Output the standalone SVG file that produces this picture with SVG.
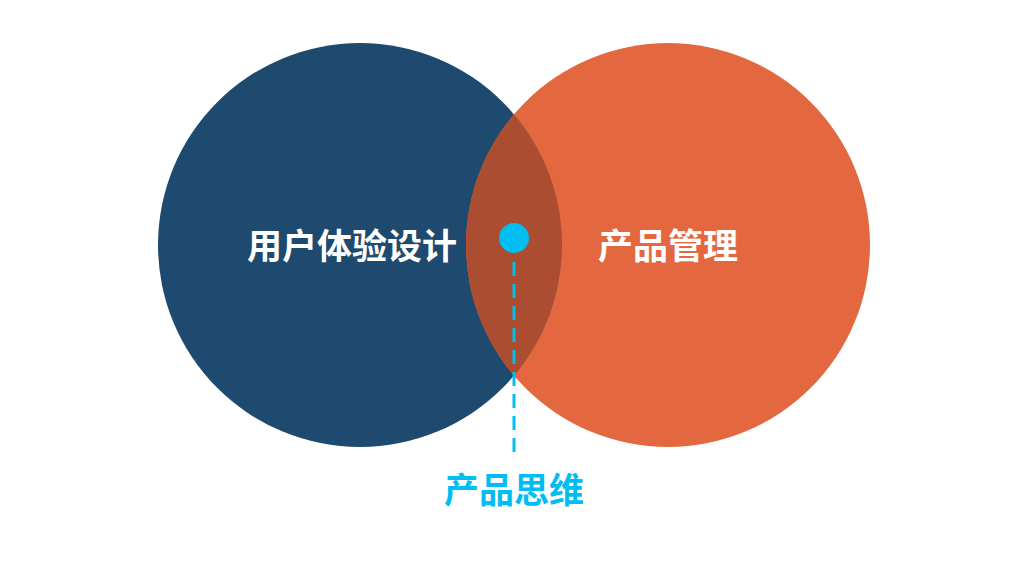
<svg xmlns="http://www.w3.org/2000/svg" width="1030" height="579" viewBox="0 0 1030 579">
<style>
.lbl{font-family:"Noto Sans CJK SC","Noto Sans",sans-serif;font-weight:700;font-size:35px;text-anchor:middle;dominant-baseline:central}
.w{fill:#ffffff}
.c{fill:#00BDF2}
</style>
<defs>
<clipPath id="clipL"><circle cx="360" cy="245" r="202"/></clipPath>
</defs>
<rect width="1030" height="579" fill="#ffffff"/>
<g id="node-ux">
<circle cx="360" cy="245" r="202" fill="#1F4A6F"/>
</g>
<g id="node-pm">
<circle cx="668" cy="245" r="202" fill="#E4683F"/>
</g>
<g id="overlap">
<circle cx="668" cy="245" r="202" fill="#AA4D30" clip-path="url(#clipL)"/>
</g>
<g id="connectors">
<line x1="514" y1="262" x2="514" y2="453" stroke="#00BDF2" stroke-width="3" stroke-dasharray="14 8"/>
</g>
<g id="node-dot">
<circle cx="514" cy="238" r="15" fill="#00BDF2"/>
</g>
<g id="labels">
<text class="lbl w" x="352" y="243">用户体验设计</text>
<text class="lbl w" x="668" y="243">产品管理</text>
<text class="lbl c" x="514" y="487">产品思维</text>
</g>
</svg>
